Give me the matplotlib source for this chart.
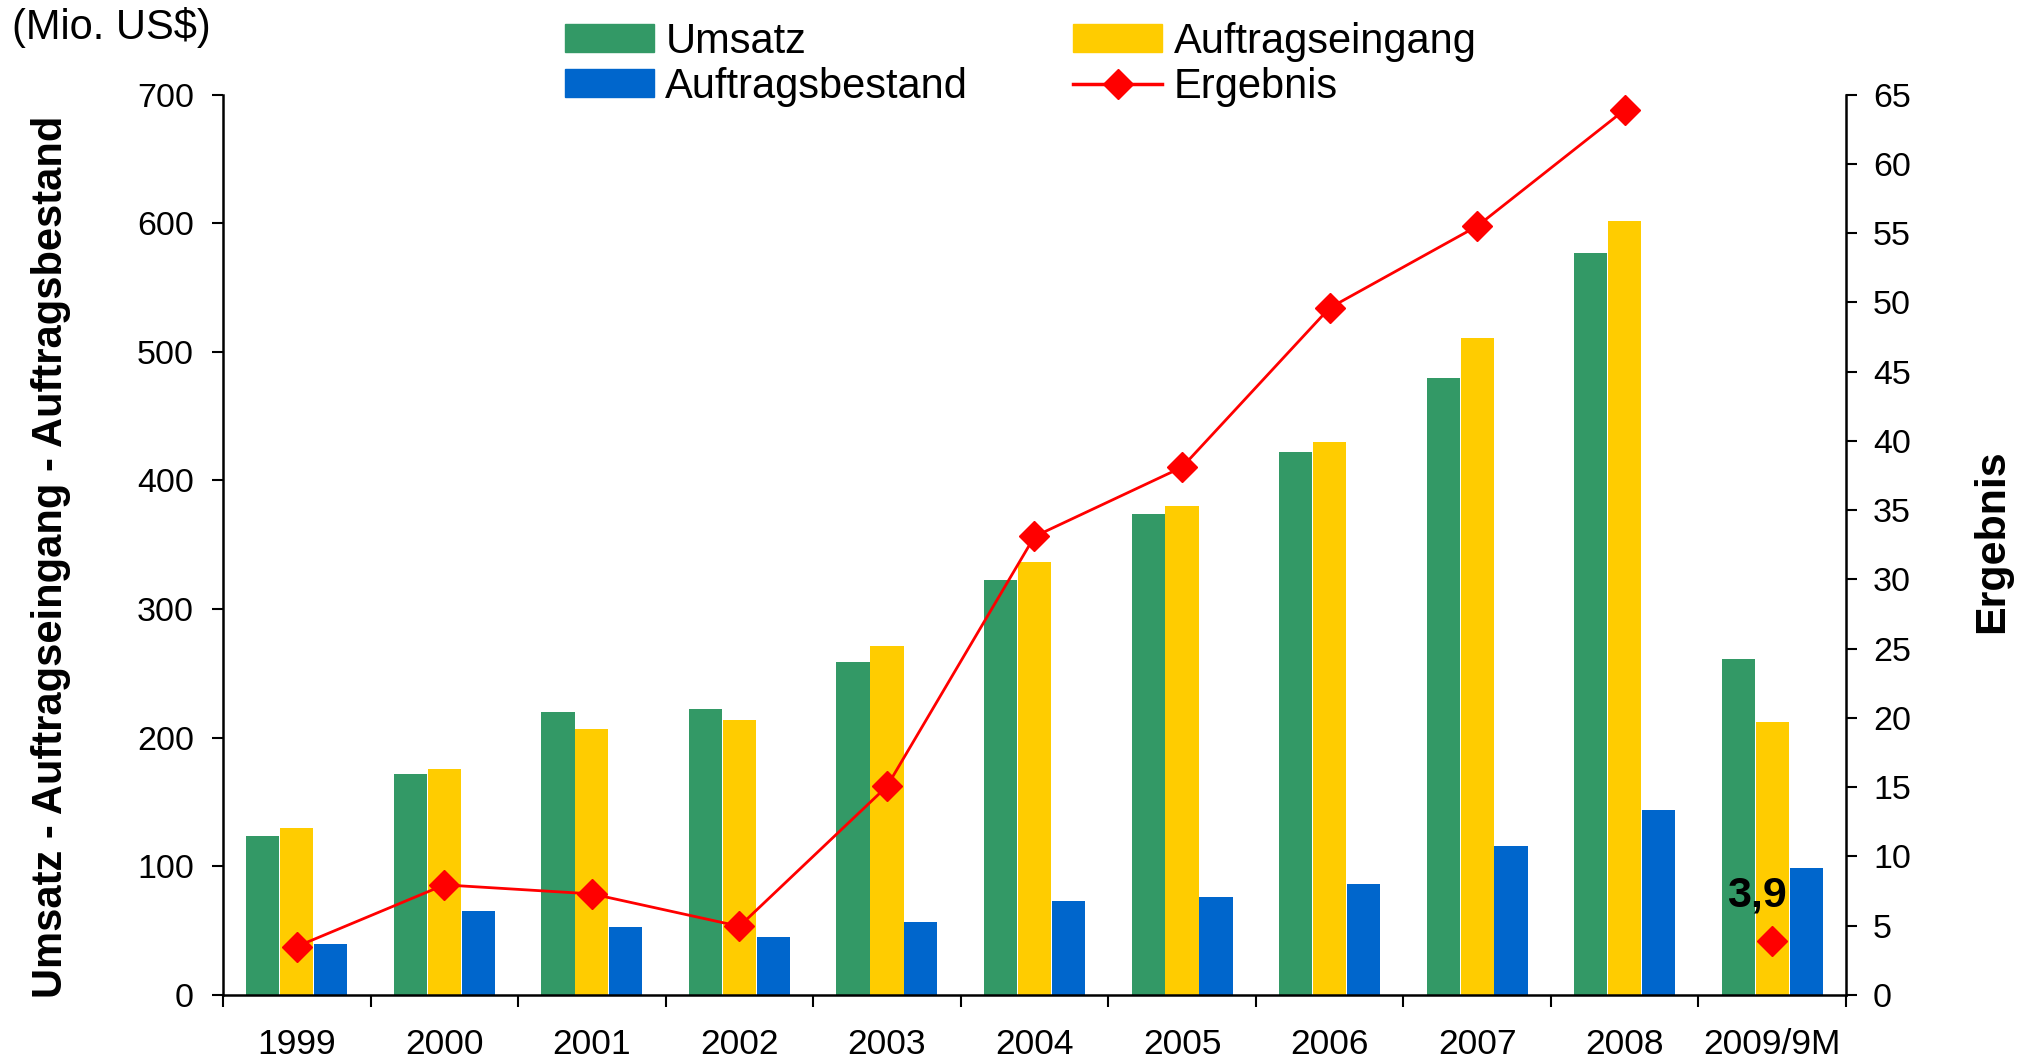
import matplotlib
matplotlib.use("Agg")
import matplotlib.pyplot as plt
import numpy as np
from matplotlib.patches import Patch
from matplotlib.lines import Line2D

categories = ["1999", "2000", "2001", "2002", "2003", "2004", "2005", "2006", "2007", "2008", "2009/9M"]
umsatz = [124, 172, 220, 222, 259, 323, 374, 422, 480, 577, 261]
auftragseingang = [130, 176, 207, 214, 271, 337, 380, 430, 511, 602, 212]
auftragsbestand = [40, 65, 53, 45, 57, 73, 76, 86, 116, 144, 99]
ergebnis = [3.5, 7.95, 7.3, 4.96, 15.06, 33.1, 38.1, 49.6, 55.5, 63.9, 3.9]
left_ticks = [0, 100, 200, 300, 400, 500, 600, 700]
right_ticks = list(range(0, 66, 5))

GREEN = "#339966"
YELLOW = "#FFCC00"
BLUE = "#0066CC"
RED = "#FF0000"

plt.rcParams['font.family'] = ['Liberation Sans', 'DejaVu Sans']
FS = 24.5
FS_X = 25.5
FS_BIG = 30

fig = plt.figure(figsize=(20.31, 10.64), dpi=100)
ax = fig.add_axes([223/2031, 1-995/1064, (1846-223)/2031, (995-94.6)/1064])
ax2 = ax.twinx()

x = np.arange(len(categories))
w = 0.225
ax.bar(x - 0.23, umsatz, w, color=GREEN, zorder=2)
ax.bar(x, auftragseingang, w, color=YELLOW, zorder=2)
ax.bar(x + 0.23, auftragsbestand, w, color=BLUE, zorder=2)

n = len(categories)
ax2.plot(x[:n-1], ergebnis[:n-1], color=RED, lw=2.0, marker='D', ms=15, zorder=3)
ax2.plot(x[n-1:], ergebnis[n-1:], color=RED, lw=0, marker='D', ms=15, zorder=3)
ax2.annotate("3,9", (x[-1], ergebnis[-1]), xytext=(-11, 33), textcoords='offset points',
             ha='center', va='center', fontsize=31, fontweight='bold')

ax.set_xlim(-0.5, n - 0.5)
ax.set_ylim(0, 700)
ax2.set_ylim(0, 65)
ax.set_yticks(left_ticks)
ax2.set_yticks(right_ticks)

ax.set_xticks(np.arange(-0.5, n, 1.0))
ax.set_xticklabels([])
ax.set_xticks(x, minor=True)
ax.set_xticklabels(categories, minor=True)
ax.tick_params(axis='x', which='major', direction='out', length=8.5, width=1.5)
ax.tick_params(axis='x', which='minor', length=0, pad=24, labelsize=FS_X)
ax.tick_params(axis='y', direction='out', length=8, width=1.5, pad=13, labelsize=FS)
ax2.tick_params(axis='y', direction='out', length=8, width=1.5, pad=11.5, labelsize=FS)

for a in (ax, ax2):
    a.spines['top'].set_visible(False)
    for s in a.spines.values():
        s.set_linewidth(1.8)
ax.spines['right'].set_visible(False)
ax2.spines['left'].set_visible(False)
ax2.spines['bottom'].set_visible(False)

fig.text(51/2031, 1-557/1064, "Umsatz - Auftragseingang - Auftragsbestand", rotation=90,
         ha='center', va='center', fontsize=30, fontweight='bold')
fig.text(1992/2031, 1-541/1064, "Ergebnis", rotation=90,
         ha='center', va='center', fontsize=31, fontweight='bold')
fig.text(12/2031, 1-27/1064, "(Mio. US$)", ha='left', va='center', fontsize=FS_BIG)

handles = [Patch(color=GREEN), Patch(color=BLUE), Patch(color=YELLOW),
           Line2D([], [], color=RED, lw=2.5, marker='D', ms=15)]
labels = ["Umsatz", "Auftragsbestand", "Auftragseingang", "Ergebnis"]
fig.legend(handles, labels, ncol=2, loc='upper left', bbox_to_anchor=(565/2031, 1-22/1064),
           frameon=False, fontsize=FS_BIG, handlelength=2.13, handleheight=0.65,
           handletextpad=0.28, columnspacing=2.52, labelspacing=0.12,
           borderpad=0, borderaxespad=0)

fig.savefig("out.png", dpi=100)
